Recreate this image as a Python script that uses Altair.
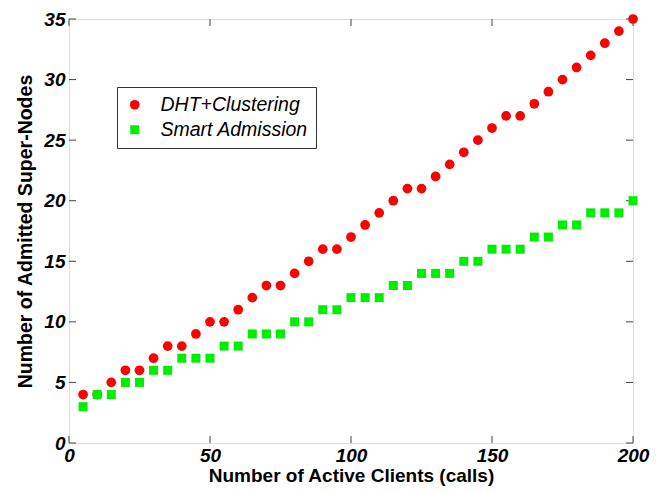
import altair as alt
import pandas as pd

clients = list(range(5, 205, 5))
dht = [4, 4, 5, 6, 6, 7, 8, 8, 9, 10, 10, 11, 12, 13, 13, 14, 15, 16, 16, 17,
       18, 19, 20, 21, 21, 22, 23, 24, 25, 26, 27, 27, 28, 29, 30, 31, 32, 33, 34, 35]
smart = [3, 4, 4, 5, 5, 6, 6, 7, 7, 7, 8, 8, 9, 9, 9, 10, 10, 11, 11, 12,
         12, 12, 13, 13, 14, 14, 14, 15, 15, 16, 16, 16, 17, 17, 18, 18, 19, 19, 19, 20]
series_names = ["DHT+Clustering", "Smart Admission"]
x_ticks = [0, 50, 100, 150, 200]
y_ticks = [0, 5, 10, 15, 20, 25, 30, 35]

df = pd.DataFrame({
    "clients": clients * 2,
    "nodes": dht + smart,
    "series": [series_names[0]] * len(clients) + [series_names[1]] * len(clients),
})

W, H = 564, 424
FONT = "Liberation Sans"

xs = alt.Scale(domain=[0, 200], nice=False)
ys = alt.Scale(domain=[0, 35], nice=False)

points = alt.Chart(df).mark_point(filled=True, opacity=1).encode(
    x=alt.X("clients:Q", scale=xs,
            axis=alt.Axis(values=x_ticks, title="Number of Active Clients (calls)",
                          tickSize=0, domain=False, grid=False, labelPadding=3,
                          labelFontStyle="italic", labelFontWeight="bold",
                          labelFontSize=19, labelColor="#000", labelFlush=False,
                          titleFontSize=19, titleFontWeight="bold", titleColor="#000",
                          titlePadding=1)),
    y=alt.Y("nodes:Q", scale=ys,
            axis=alt.Axis(values=y_ticks, title="Number of Admitted Super-Nodes",
                          tickSize=0, domain=False, grid=False, labelPadding=4,
                          labelFontStyle="italic", labelFontWeight="bold",
                          labelFontSize=19, labelColor="#000", labelFlush=False,
                          titleFontSize=19.5, titleFontWeight="bold", titleColor="#000",
                          titlePadding=8)),
    color=alt.Color("series:N",
                    scale=alt.Scale(domain=series_names, range=["#ff0000", "#00ee00"]),
                    legend=alt.Legend(title=None, orient="none", legendX=48, legendY=68,
                                      strokeColor="#333", fillColor="white",
                                      padding=8, labelFontSize=19.5, labelFontStyle="italic",
                                      labelFont=FONT, labelColor="#000",
                                      symbolSize=85, symbolStrokeWidth=0,
                                      rowPadding=4, labelOffset=16)),
    shape=alt.Shape("series:N",
                    scale=alt.Scale(domain=series_names, range=["circle", "square"]),
                    legend=None),
    size=alt.Size("series:N",
                  scale=alt.Scale(domain=series_names, range=[95, 81]),
                  legend=None),
)

tick_len = 7
xt = pd.DataFrame({"v": x_ticks})
yt = pd.DataFrame({"v": y_ticks})
tick_style = dict(color="#444", strokeWidth=1)

bottom = alt.Chart(xt).mark_rule(**tick_style).encode(
    x=alt.X("v:Q", scale=xs), y=alt.value(H), y2=alt.value(H - tick_len))
top = alt.Chart(xt).mark_rule(**tick_style).encode(
    x=alt.X("v:Q", scale=xs), y=alt.value(0), y2=alt.value(tick_len))
left = alt.Chart(yt).mark_rule(**tick_style).encode(
    y=alt.Y("v:Q", scale=ys), x=alt.value(0), x2=alt.value(tick_len))
right = alt.Chart(yt).mark_rule(**tick_style).encode(
    y=alt.Y("v:Q", scale=ys), x=alt.value(W), x2=alt.value(W - tick_len))

chart = alt.layer(bottom, top, left, right, points).properties(
    width=W, height=H,
    autosize=alt.AutoSizeParams(type="none"),
    padding={"left": 69, "top": 19, "right": 31, "bottom": 49},
).configure_view(stroke="#444", strokeWidth=1).configure(
    font=FONT, background="white")

chart.save("out.html", embed_options={"renderer": "svg", "actions": False})
